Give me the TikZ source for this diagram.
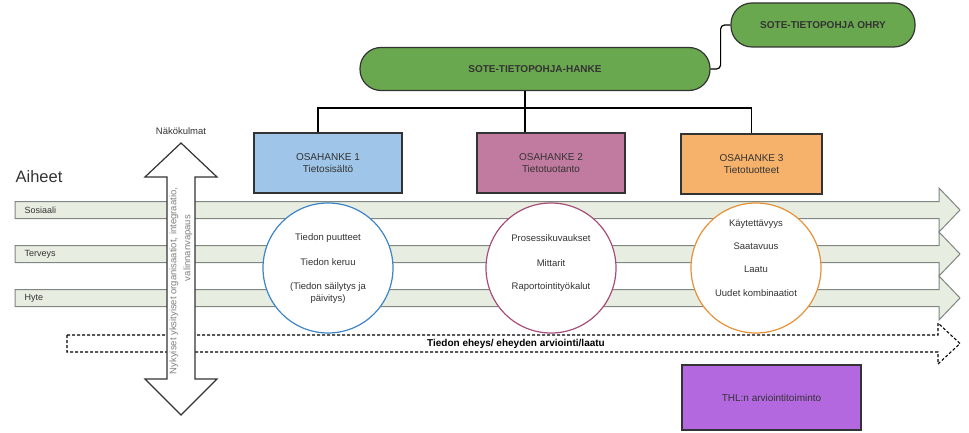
\documentclass[tikz,border=0pt]{standalone}
\usepackage{fontspec}
\setmainfont{Liberation Sans}
\usetikzlibrary{positioning}

\definecolor{bandfill}{RGB}{231,238,225}
\definecolor{bandline}{RGB}{128,134,128}
\definecolor{pillgreen}{RGB}{106,168,79}
\definecolor{osablue}{RGB}{159,197,232}
\definecolor{osapink}{RGB}{194,123,160}
\definecolor{osaorange}{RGB}{246,178,107}
\definecolor{thlpurple}{RGB}{180,104,224}
\definecolor{ringblue}{RGB}{61,133,198}
\definecolor{ringpink}{RGB}{166,77,121}
\definecolor{ringorange}{RGB}{230,145,56}
\definecolor{edgegray}{RGB}{51,51,51}

\tikzset{
  band/.style={draw=bandline, fill=bandfill, line width=1pt},
  dotband/.style={draw=black, line width=1.1pt, dash pattern=on 3pt off 2pt},
  pill/.style={draw=edgegray, fill=pillgreen, line width=1.2pt, inner sep=0pt,
    font=\fontsize{10}{12}\selectfont\bfseries},
  osabox/.style={draw=edgegray, line width=1.3pt, minimum width=148pt,
    minimum height=60pt, inner sep=0pt, align=center},
  ring/.style={circle, draw, fill=white, line width=1.2pt, minimum size=130pt, inner sep=0pt},
  ringtext/.style={align=center, font=\fontsize{9.5}{12}\selectfont},
  tree/.style={draw=black, line width=1.4pt}
}

\begin{document}
\begin{tikzpicture}[x=1pt,y=-1pt,
    every node/.style={font=\fontsize{10}{12}\selectfont, text=edgegray}]
  \useasboundingbox (0,0) rectangle (969,433);

  % aiheet
  \node (aiheet) at (39,177) {\fontsize{16.5}{18}\selectfont Aiheet};
  \foreach \yc/\aihe in {210/Sosiaali, 254/Terveys, 298/Hyte} {
    \draw[band] (15,\yc-8.5) -- (939,\yc-8.5) -- (939,\yc-22) -- (960,\yc)
      -- (939,\yc+22) -- (939,\yc+8.5) -- (15,\yc+8.5) -- cycle;
    \node[anchor=west, font=\fontsize{9}{11}\selectfont] (\aihe) at (21,\yc) {\aihe};
  }

  % tiedon eheys
  \draw[dotband] (67,335) -- (938,335) -- (938,323) -- (960,343.5)
    -- (938,364) -- (938,352) -- (67,352) -- cycle;
  \node[font=\fontsize{10}{12}\selectfont\bfseries, text=black] (eheys) at (516,343.5)
    {Tiedon eheys/ eheyden arviointi/laatu};

  % nakokulmat
  \draw[draw=edgegray, fill=white, line width=1.2pt]
    (181,143) -- (217,177) -- (195,177) -- (195,379) -- (217,379) -- (181,415)
    -- (145,379) -- (167,379) -- (167,177) -- (145,177) -- cycle;
  \node (nakokulmat) at (181,131) {\fontsize{9.5}{11}\selectfont N\"ak\"okulmat};
  \node[rotate=90, align=center, text=gray, font=\fontsize{9.5}{14}\selectfont]
    (nykyiset) at (181,281)
    {Nykyiset yksityiset organisaatiot, integraatio,\\\hspace*{66pt}valinnanvapaus};

  % hankkeet
  \node[pill, rounded corners=21pt, minimum width=350pt, minimum height=43pt]
    (hanke) at (535,69) {SOTE-TIETOPOHJA-HANKE};
  \node[pill, rounded corners=21pt, minimum width=184pt, minimum height=44pt]
    (ohry) at (823,25) {SOTE-TIETOPOHJA OHRY};
  \draw[line width=1.2pt, rounded corners=4pt] (hanke.east) -- ++(10,0) |- (ohry.west);

  \node[osabox, fill=osablue] (osa1) at (328,163) {OSAHANKE 1\\Tietosis\"alt\"o};
  \node[osabox, fill=osapink] (osa2) at (551,163) {OSAHANKE 2\\Tietotuotanto};
  \node[osabox, fill=osaorange, minimum width=141pt] (osa3) at (751.5,164)
    {OSAHANKE 3\\Tietotuotteet};

  \coordinate (haara) at (525,108);
  \draw[tree] (hanke.south -| haara) -- (haara);
  \draw[tree] (haara) -| ([xshift=-10pt]osa1.north);
  \draw[tree] (haara) -- (osa2.north -| haara);
  \draw[tree] (haara) -| (osa3.north);

  % sisallot
  \node[ring, draw=ringblue] (ympyra1) at (328,268) {};
  \node[ringtext] (sisalto1) at ([yshift=-1pt]ympyra1)
    {Tiedon puutteet\\[13pt]Tiedon keruu\\[12pt](Tiedon s\"ailytys ja\\p\"aivitys)};
  \node[ring, draw=ringpink] (ympyra2) at (551,268) {};
  \node[ringtext] (sisalto2) at ([yshift=5pt]ympyra2)
    {Prosessikuvaukset\\[13pt]Mittarit\\[11pt]Raportointity\"okalut};
  \node[ring, draw=ringorange] (ympyra3) at (756,268) {};
  \node[ringtext] (sisalto3) at ([yshift=10pt]ympyra3)
    {K\"aytett\"avyys\\[11pt]Saatavuus\\[11pt]Laatu\\[12pt]Uudet kombinaatiot};

  % arviointi
  \node[osabox, fill=thlpurple, minimum width=179pt, minimum height=65pt]
    (thl) at (771.5,397.5) {THL:n arviointitoiminto};
\end{tikzpicture}
\end{document}
